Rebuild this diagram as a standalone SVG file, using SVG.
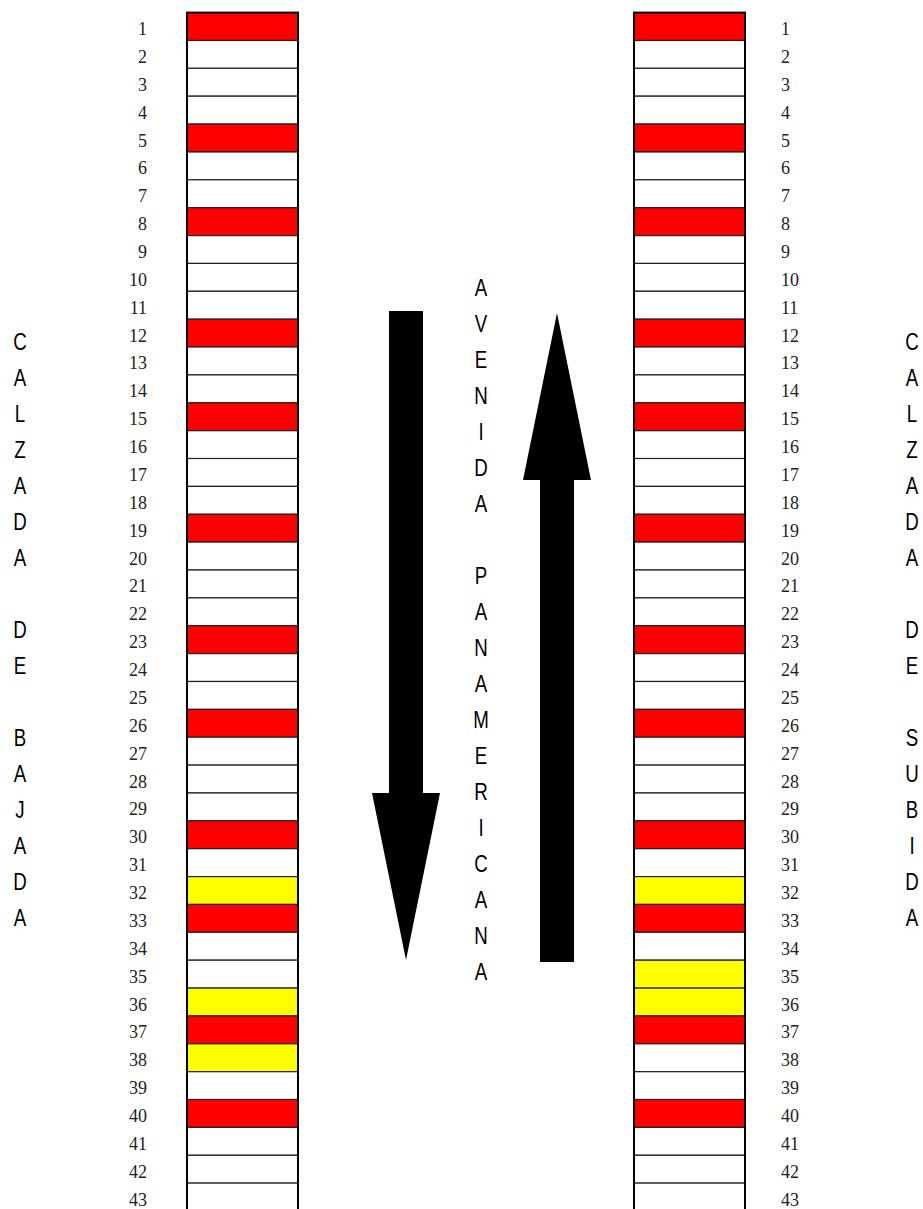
<svg xmlns="http://www.w3.org/2000/svg" width="923" height="1209" viewBox="0 0 923 1209">
<style>
.w{fill:#FFFFFF;stroke:#222;stroke-width:1.2}
.r{fill:#FF0000;stroke:#222;stroke-width:1.2}
.y{fill:#FFFF00;stroke:#222;stroke-width:1.2}
.frame{fill:none;stroke:#000;stroke-width:2}
.num{font-family:"Liberation Serif","Times New Roman",serif;font-size:18px;fill:#222}
.nl{text-anchor:end}
.nr{text-anchor:start}
.lbl{font-family:"Liberation Sans",Arial,sans-serif;font-size:24px;fill:#000;text-anchor:middle}
.arrow{fill:#000}
</style>
<rect width="923" height="1209" fill="#FFFFFF"/>
<g id="left-column">
<rect class="r" x="187" y="12.6" width="111" height="27.87"/>
<rect class="w" x="187" y="40.5" width="111" height="27.87"/>
<rect class="w" x="187" y="68.3" width="111" height="27.87"/>
<rect class="w" x="187" y="96.2" width="111" height="27.87"/>
<rect class="r" x="187" y="124.1" width="111" height="27.87"/>
<rect class="w" x="187" y="152.0" width="111" height="27.87"/>
<rect class="w" x="187" y="179.8" width="111" height="27.87"/>
<rect class="r" x="187" y="207.7" width="111" height="27.87"/>
<rect class="w" x="187" y="235.6" width="111" height="27.87"/>
<rect class="w" x="187" y="263.4" width="111" height="27.87"/>
<rect class="w" x="187" y="291.3" width="111" height="27.87"/>
<rect class="r" x="187" y="319.2" width="111" height="27.87"/>
<rect class="w" x="187" y="347.0" width="111" height="27.87"/>
<rect class="w" x="187" y="374.9" width="111" height="27.87"/>
<rect class="r" x="187" y="402.8" width="111" height="27.87"/>
<rect class="w" x="187" y="430.7" width="111" height="27.87"/>
<rect class="w" x="187" y="458.5" width="111" height="27.87"/>
<rect class="w" x="187" y="486.4" width="111" height="27.87"/>
<rect class="r" x="187" y="514.3" width="111" height="27.87"/>
<rect class="w" x="187" y="542.1" width="111" height="27.87"/>
<rect class="w" x="187" y="570.0" width="111" height="27.87"/>
<rect class="w" x="187" y="597.9" width="111" height="27.87"/>
<rect class="r" x="187" y="625.7" width="111" height="27.87"/>
<rect class="w" x="187" y="653.6" width="111" height="27.87"/>
<rect class="w" x="187" y="681.5" width="111" height="27.87"/>
<rect class="r" x="187" y="709.4" width="111" height="27.87"/>
<rect class="w" x="187" y="737.2" width="111" height="27.87"/>
<rect class="w" x="187" y="765.1" width="111" height="27.87"/>
<rect class="w" x="187" y="793.0" width="111" height="27.87"/>
<rect class="r" x="187" y="820.8" width="111" height="27.87"/>
<rect class="w" x="187" y="848.7" width="111" height="27.87"/>
<rect class="y" x="187" y="876.6" width="111" height="27.87"/>
<rect class="r" x="187" y="904.4" width="111" height="27.87"/>
<rect class="w" x="187" y="932.3" width="111" height="27.87"/>
<rect class="w" x="187" y="960.2" width="111" height="27.87"/>
<rect class="y" x="187" y="988.1" width="111" height="27.87"/>
<rect class="r" x="187" y="1015.9" width="111" height="27.87"/>
<rect class="y" x="187" y="1043.8" width="111" height="27.87"/>
<rect class="w" x="187" y="1071.7" width="111" height="27.87"/>
<rect class="r" x="187" y="1099.5" width="111" height="27.87"/>
<rect class="w" x="187" y="1127.4" width="111" height="27.87"/>
<rect class="w" x="187" y="1155.3" width="111" height="27.87"/>
<rect class="w" x="187" y="1183.1" width="111" height="27.87"/>
<rect class="frame" x="187" y="12.6" width="111" height="1199"/>
</g>
<g id="right-column">
<rect class="r" x="634" y="12.6" width="111" height="27.87"/>
<rect class="w" x="634" y="40.5" width="111" height="27.87"/>
<rect class="w" x="634" y="68.3" width="111" height="27.87"/>
<rect class="w" x="634" y="96.2" width="111" height="27.87"/>
<rect class="r" x="634" y="124.1" width="111" height="27.87"/>
<rect class="w" x="634" y="152.0" width="111" height="27.87"/>
<rect class="w" x="634" y="179.8" width="111" height="27.87"/>
<rect class="r" x="634" y="207.7" width="111" height="27.87"/>
<rect class="w" x="634" y="235.6" width="111" height="27.87"/>
<rect class="w" x="634" y="263.4" width="111" height="27.87"/>
<rect class="w" x="634" y="291.3" width="111" height="27.87"/>
<rect class="r" x="634" y="319.2" width="111" height="27.87"/>
<rect class="w" x="634" y="347.0" width="111" height="27.87"/>
<rect class="w" x="634" y="374.9" width="111" height="27.87"/>
<rect class="r" x="634" y="402.8" width="111" height="27.87"/>
<rect class="w" x="634" y="430.7" width="111" height="27.87"/>
<rect class="w" x="634" y="458.5" width="111" height="27.87"/>
<rect class="w" x="634" y="486.4" width="111" height="27.87"/>
<rect class="r" x="634" y="514.3" width="111" height="27.87"/>
<rect class="w" x="634" y="542.1" width="111" height="27.87"/>
<rect class="w" x="634" y="570.0" width="111" height="27.87"/>
<rect class="w" x="634" y="597.9" width="111" height="27.87"/>
<rect class="r" x="634" y="625.7" width="111" height="27.87"/>
<rect class="w" x="634" y="653.6" width="111" height="27.87"/>
<rect class="w" x="634" y="681.5" width="111" height="27.87"/>
<rect class="r" x="634" y="709.4" width="111" height="27.87"/>
<rect class="w" x="634" y="737.2" width="111" height="27.87"/>
<rect class="w" x="634" y="765.1" width="111" height="27.87"/>
<rect class="w" x="634" y="793.0" width="111" height="27.87"/>
<rect class="r" x="634" y="820.8" width="111" height="27.87"/>
<rect class="w" x="634" y="848.7" width="111" height="27.87"/>
<rect class="y" x="634" y="876.6" width="111" height="27.87"/>
<rect class="r" x="634" y="904.4" width="111" height="27.87"/>
<rect class="w" x="634" y="932.3" width="111" height="27.87"/>
<rect class="y" x="634" y="960.2" width="111" height="27.87"/>
<rect class="y" x="634" y="988.1" width="111" height="27.87"/>
<rect class="r" x="634" y="1015.9" width="111" height="27.87"/>
<rect class="w" x="634" y="1043.8" width="111" height="27.87"/>
<rect class="w" x="634" y="1071.7" width="111" height="27.87"/>
<rect class="r" x="634" y="1099.5" width="111" height="27.87"/>
<rect class="w" x="634" y="1127.4" width="111" height="27.87"/>
<rect class="w" x="634" y="1155.3" width="111" height="27.87"/>
<rect class="w" x="634" y="1183.1" width="111" height="27.87"/>
<rect class="frame" x="634" y="12.6" width="111" height="1199"/>
</g>
<g id="left-numbers" class="num nl">
<text x="147" y="35.0">1</text><text x="147" y="62.9">2</text><text x="147" y="90.7">3</text><text x="147" y="118.6">4</text><text x="147" y="146.5">5</text><text x="147" y="174.4">6</text><text x="147" y="202.2">7</text><text x="147" y="230.1">8</text><text x="147" y="258.0">9</text><text x="147" y="285.8">10</text><text x="147" y="313.7">11</text><text x="147" y="341.6">12</text><text x="147" y="369.4">13</text><text x="147" y="397.3">14</text><text x="147" y="425.2">15</text><text x="147" y="453.1">16</text><text x="147" y="480.9">17</text><text x="147" y="508.8">18</text><text x="147" y="536.7">19</text><text x="147" y="564.5">20</text><text x="147" y="592.4">21</text><text x="147" y="620.3">22</text><text x="147" y="648.1">23</text><text x="147" y="676.0">24</text><text x="147" y="703.9">25</text><text x="147" y="731.8">26</text><text x="147" y="759.6">27</text><text x="147" y="787.5">28</text><text x="147" y="815.4">29</text><text x="147" y="843.2">30</text><text x="147" y="871.1">31</text><text x="147" y="899.0">32</text><text x="147" y="926.8">33</text><text x="147" y="954.7">34</text><text x="147" y="982.6">35</text><text x="147" y="1010.5">36</text><text x="147" y="1038.3">37</text><text x="147" y="1066.2">38</text><text x="147" y="1094.1">39</text><text x="147" y="1121.9">40</text><text x="147" y="1149.8">41</text><text x="147" y="1177.7">42</text><text x="147" y="1205.5">43</text>
</g>
<g id="right-numbers" class="num nr">
<text x="781" y="35.0">1</text><text x="781" y="62.9">2</text><text x="781" y="90.7">3</text><text x="781" y="118.6">4</text><text x="781" y="146.5">5</text><text x="781" y="174.4">6</text><text x="781" y="202.2">7</text><text x="781" y="230.1">8</text><text x="781" y="258.0">9</text><text x="781" y="285.8">10</text><text x="781" y="313.7">11</text><text x="781" y="341.6">12</text><text x="781" y="369.4">13</text><text x="781" y="397.3">14</text><text x="781" y="425.2">15</text><text x="781" y="453.1">16</text><text x="781" y="480.9">17</text><text x="781" y="508.8">18</text><text x="781" y="536.7">19</text><text x="781" y="564.5">20</text><text x="781" y="592.4">21</text><text x="781" y="620.3">22</text><text x="781" y="648.1">23</text><text x="781" y="676.0">24</text><text x="781" y="703.9">25</text><text x="781" y="731.8">26</text><text x="781" y="759.6">27</text><text x="781" y="787.5">28</text><text x="781" y="815.4">29</text><text x="781" y="843.2">30</text><text x="781" y="871.1">31</text><text x="781" y="899.0">32</text><text x="781" y="926.8">33</text><text x="781" y="954.7">34</text><text x="781" y="982.6">35</text><text x="781" y="1010.5">36</text><text x="781" y="1038.3">37</text><text x="781" y="1066.2">38</text><text x="781" y="1094.1">39</text><text x="781" y="1121.9">40</text><text x="781" y="1149.8">41</text><text x="781" y="1177.7">42</text><text x="781" y="1205.5">43</text>
</g>
<g id="arrows">
<polygon id="arrow-down" class="arrow" points="389,311 423,311 423,793 440,793 406,960 372,793 389,793"/>
<polygon id="arrow-up" class="arrow" points="557,313 591,480 574,480 574,962 540,962 540,480 523,480"/>
</g>
<g id="label-bajada" transform="translate(20,0) scale(0.78,1) translate(-20,0)">
<text class="lbl"><tspan x="20" y="350.5">C</tspan><tspan x="20" y="386.5">A</tspan><tspan x="20" y="422.5">L</tspan><tspan x="20" y="458.5">Z</tspan><tspan x="20" y="494.5">A</tspan><tspan x="20" y="530.5">D</tspan><tspan x="20" y="566.5">A</tspan><tspan x="20" y="638.5">D</tspan><tspan x="20" y="674.5">E</tspan><tspan x="20" y="746.5">B</tspan><tspan x="20" y="782.5">A</tspan><tspan x="20" y="818.5">J</tspan><tspan x="20" y="854.5">A</tspan><tspan x="20" y="890.5">D</tspan><tspan x="20" y="926.5">A</tspan></text>
</g>
<g id="label-subida" transform="translate(912,0) scale(0.78,1) translate(-912,0)">
<text class="lbl"><tspan x="912" y="350.5">C</tspan><tspan x="912" y="386.5">A</tspan><tspan x="912" y="422.5">L</tspan><tspan x="912" y="458.5">Z</tspan><tspan x="912" y="494.5">A</tspan><tspan x="912" y="530.5">D</tspan><tspan x="912" y="566.5">A</tspan><tspan x="912" y="638.5">D</tspan><tspan x="912" y="674.5">E</tspan><tspan x="912" y="746.5">S</tspan><tspan x="912" y="782.5">U</tspan><tspan x="912" y="818.5">B</tspan><tspan x="912" y="854.5">I</tspan><tspan x="912" y="890.5">D</tspan><tspan x="912" y="926.5">A</tspan></text>
</g>
<g id="label-avenida" transform="translate(481,0) scale(0.78,1) translate(-481,0)">
<text class="lbl"><tspan x="481" y="296">A</tspan><tspan x="481" y="332">V</tspan><tspan x="481" y="368">E</tspan><tspan x="481" y="404">N</tspan><tspan x="481" y="440">I</tspan><tspan x="481" y="476">D</tspan><tspan x="481" y="512">A</tspan><tspan x="481" y="584">P</tspan><tspan x="481" y="620">A</tspan><tspan x="481" y="656">N</tspan><tspan x="481" y="692">A</tspan><tspan x="481" y="728">M</tspan><tspan x="481" y="764">E</tspan><tspan x="481" y="800">R</tspan><tspan x="481" y="836">I</tspan><tspan x="481" y="872">C</tspan><tspan x="481" y="908">A</tspan><tspan x="481" y="944">N</tspan><tspan x="481" y="980">A</tspan></text>
</g>
</svg>
